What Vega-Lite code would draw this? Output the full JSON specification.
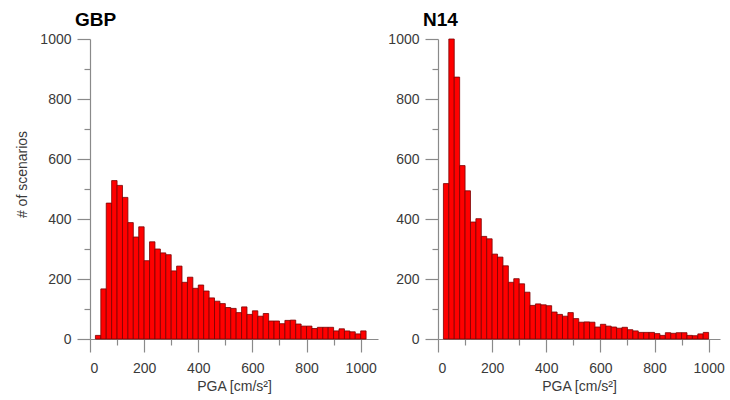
{
  "$schema": "https://vega.github.io/schema/vega-lite/v6.json",
  "padding": {"left": 15, "top": 11, "right": 5, "bottom": 5},
  "datasets": {
    "gbp": [
      {"lo": 20, "hi": 40, "count": 12},
      {"lo": 40, "hi": 60, "count": 167},
      {"lo": 60, "hi": 80, "count": 453},
      {"lo": 80, "hi": 100, "count": 528},
      {"lo": 100, "hi": 120, "count": 512},
      {"lo": 120, "hi": 140, "count": 472},
      {"lo": 140, "hi": 160, "count": 388},
      {"lo": 160, "hi": 180, "count": 340},
      {"lo": 180, "hi": 200, "count": 374},
      {"lo": 200, "hi": 220, "count": 261},
      {"lo": 220, "hi": 240, "count": 324},
      {"lo": 240, "hi": 260, "count": 300},
      {"lo": 260, "hi": 280, "count": 287},
      {"lo": 280, "hi": 300, "count": 281},
      {"lo": 300, "hi": 320, "count": 227},
      {"lo": 320, "hi": 340, "count": 243},
      {"lo": 340, "hi": 360, "count": 189},
      {"lo": 360, "hi": 380, "count": 206},
      {"lo": 380, "hi": 400, "count": 169},
      {"lo": 400, "hi": 420, "count": 180},
      {"lo": 420, "hi": 440, "count": 160},
      {"lo": 440, "hi": 460, "count": 137},
      {"lo": 460, "hi": 480, "count": 126},
      {"lo": 480, "hi": 500, "count": 118},
      {"lo": 500, "hi": 520, "count": 105},
      {"lo": 520, "hi": 540, "count": 102},
      {"lo": 540, "hi": 560, "count": 88},
      {"lo": 560, "hi": 580, "count": 107},
      {"lo": 580, "hi": 600, "count": 82},
      {"lo": 600, "hi": 620, "count": 94},
      {"lo": 620, "hi": 640, "count": 76},
      {"lo": 640, "hi": 660, "count": 85},
      {"lo": 660, "hi": 680, "count": 60},
      {"lo": 680, "hi": 700, "count": 60},
      {"lo": 700, "hi": 720, "count": 51},
      {"lo": 720, "hi": 740, "count": 62},
      {"lo": 740, "hi": 760, "count": 63},
      {"lo": 760, "hi": 780, "count": 50},
      {"lo": 780, "hi": 800, "count": 43},
      {"lo": 800, "hi": 820, "count": 43},
      {"lo": 820, "hi": 840, "count": 35},
      {"lo": 840, "hi": 860, "count": 39},
      {"lo": 860, "hi": 880, "count": 39},
      {"lo": 880, "hi": 900, "count": 39},
      {"lo": 900, "hi": 920, "count": 27},
      {"lo": 920, "hi": 940, "count": 34},
      {"lo": 940, "hi": 960, "count": 27},
      {"lo": 960, "hi": 980, "count": 24},
      {"lo": 980, "hi": 1000, "count": 17},
      {"lo": 1000, "hi": 1020, "count": 27}
    ],
    "n14": [
      {"lo": 20, "hi": 40, "count": 518},
      {"lo": 40, "hi": 60, "count": 1000},
      {"lo": 60, "hi": 80, "count": 873},
      {"lo": 80, "hi": 100, "count": 578},
      {"lo": 100, "hi": 120, "count": 494},
      {"lo": 120, "hi": 140, "count": 390},
      {"lo": 140, "hi": 160, "count": 401},
      {"lo": 160, "hi": 180, "count": 342},
      {"lo": 180, "hi": 200, "count": 334},
      {"lo": 200, "hi": 220, "count": 283},
      {"lo": 220, "hi": 240, "count": 273},
      {"lo": 240, "hi": 260, "count": 244},
      {"lo": 260, "hi": 280, "count": 189},
      {"lo": 280, "hi": 300, "count": 201},
      {"lo": 300, "hi": 320, "count": 184},
      {"lo": 320, "hi": 340, "count": 156},
      {"lo": 340, "hi": 360, "count": 112},
      {"lo": 360, "hi": 380, "count": 117},
      {"lo": 380, "hi": 400, "count": 114},
      {"lo": 400, "hi": 420, "count": 111},
      {"lo": 420, "hi": 440, "count": 90},
      {"lo": 440, "hi": 460, "count": 82},
      {"lo": 460, "hi": 480, "count": 76},
      {"lo": 480, "hi": 500, "count": 88},
      {"lo": 500, "hi": 520, "count": 68},
      {"lo": 520, "hi": 540, "count": 56},
      {"lo": 540, "hi": 560, "count": 57},
      {"lo": 560, "hi": 580, "count": 56},
      {"lo": 580, "hi": 600, "count": 40},
      {"lo": 600, "hi": 620, "count": 49},
      {"lo": 620, "hi": 640, "count": 43},
      {"lo": 640, "hi": 660, "count": 40},
      {"lo": 660, "hi": 680, "count": 36},
      {"lo": 680, "hi": 700, "count": 39},
      {"lo": 700, "hi": 720, "count": 31},
      {"lo": 720, "hi": 740, "count": 27},
      {"lo": 740, "hi": 760, "count": 22},
      {"lo": 760, "hi": 780, "count": 22},
      {"lo": 780, "hi": 800, "count": 22},
      {"lo": 800, "hi": 820, "count": 18},
      {"lo": 820, "hi": 840, "count": 12},
      {"lo": 840, "hi": 860, "count": 21},
      {"lo": 860, "hi": 880, "count": 19},
      {"lo": 880, "hi": 900, "count": 21},
      {"lo": 900, "hi": 920, "count": 21},
      {"lo": 920, "hi": 940, "count": 12},
      {"lo": 940, "hi": 960, "count": 11},
      {"lo": 960, "hi": 980, "count": 17},
      {"lo": 980, "hi": 1000, "count": 22}
    ]
  },
  "config": {
    "view": {"stroke": null},
    "axis": {
      "grid": false,
      "domainColor": "#8a8a8a",
      "tickColor": "#8a8a8a",
      "domainWidth": 1.2,
      "tickWidth": 1.2,
      "format": "d",
      "values": [0, 100, 200, 300, 400, 500, 600, 700, 800, 900, 1000],
      "labelExpr": "datum.value % 200 === 0 ? datum.label : ''",
      "tickSize": {"condition": {"test": "datum.value % 200 === 0", "value": 13}, "value": 6},
      "labelFont": "Liberation Sans",
      "labelFontSize": 14,
      "labelColor": "#3a3a3a",
      "titleFont": "Liberation Sans",
      "titleFontSize": 14,
      "titleFontWeight": "normal",
      "titleColor": "#3a3a3a"
    },
    "title": {
      "font": "Liberation Sans",
      "fontSize": 19,
      "fontWeight": "bold",
      "color": "#000000",
      "anchor": "start",
      "frame": "group",
      "dx": -15,
      "offset": 2
    }
  },
  "spacing": 9,
  "hconcat": [
    {
      "width": 288,
      "height": 300,
      "title": "GBP",
      "data": {"name": "gbp"},
      "mark": {"type": "rect", "fill": "#ff0000", "stroke": "#7a0000", "strokeWidth": 0.8},
      "encoding": {
        "x": {"field": "lo", "type": "quantitative", "scale": {"domain": [0, 1064], "nice": false, "zero": false},
          "axis": {"labelPadding": 9, "title": "PGA [cm/s²]", "titlePadding": 4}},
        "x2": {"field": "hi"},
        "y": {"field": "count", "type": "quantitative", "scale": {"domain": [0, 1000], "nice": false},
          "axis": {"labelPadding": 6, "title": "# of scenarios", "titlePadding": 10, "titleY": 135}}
      }
    },
    {
      "width": 282,
      "height": 300,
      "title": "N14",
      "data": {"name": "n14"},
      "mark": {"type": "rect", "fill": "#ff0000", "stroke": "#7a0000", "strokeWidth": 0.8},
      "encoding": {
        "x": {"field": "lo", "type": "quantitative", "scale": {"domain": [0, 1042], "nice": false, "zero": false},
          "axis": {"labelPadding": 9, "title": "PGA [cm/s²]", "titlePadding": 4}},
        "x2": {"field": "hi"},
        "y": {"field": "count", "type": "quantitative", "scale": {"domain": [0, 1000], "nice": false},
          "axis": {"labelPadding": 6, "title": null}}
      }
    }
  ]
}
